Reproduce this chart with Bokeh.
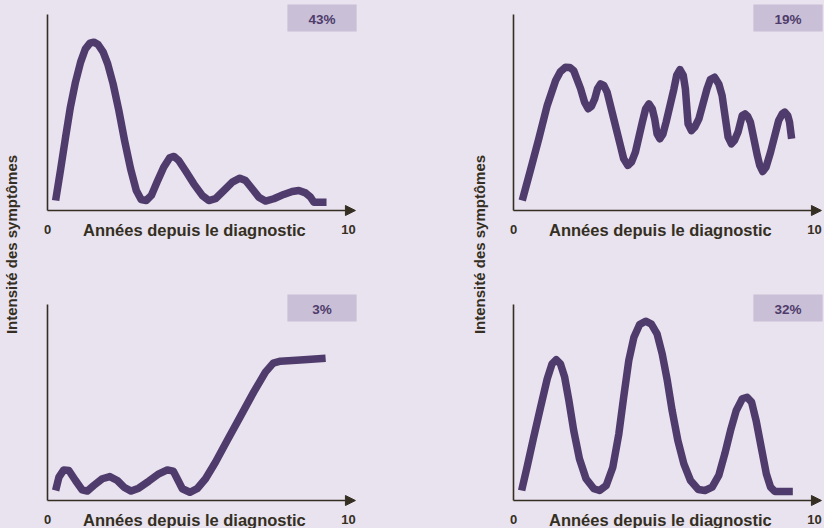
import math
from bokeh.plotting import figure
from bokeh.layouts import row, column
from bokeh.models import Arrow, NormalHead
from bokeh.core.properties import value
from bokeh.embed import file_html
from bokeh.resources import INLINE

# ---------------- data ----------------
x_label = "Années depuis le diagnostic"
y_label = "Intensité des symptômes"
tick_values = [0, 10]
tick_labels = ["0", "10"]
shares = ["43%", "19%", "3%", "32%"]

# panel 1 (top-left)
x1 = [0.27, 0.43, 0.60, 0.76, 0.93, 1.10, 1.26, 1.41, 1.54, 1.68, 1.85, 2.00, 2.18, 2.37, 2.56, 2.76,
      2.95, 3.11, 3.28, 3.45, 3.64, 3.86, 4.06, 4.20, 4.36, 4.58, 4.86, 5.14, 5.36, 5.58, 5.86, 6.14,
      6.39, 6.58, 6.80, 7.02, 7.24, 7.52, 7.85, 8.13, 8.35, 8.57, 8.74, 8.85, 8.96, 9.27]
y1 = [0.51, 2.04, 3.74, 5.27, 6.55, 7.57, 8.25, 8.54, 8.59, 8.47, 8.08, 7.48, 6.46, 5.10, 3.57, 2.13,
      1.02, 0.56, 0.51, 0.77, 1.45, 2.21, 2.69, 2.76, 2.55, 2.04, 1.36, 0.77, 0.51, 0.60, 1.02, 1.45,
      1.65, 1.53, 1.11, 0.68, 0.48, 0.60, 0.82, 0.97, 1.02, 0.90, 0.68, 0.42, 0.42, 0.42]

# panel 2 (top-right)
x2 = [0.29, 0.56, 0.84, 1.12, 1.40, 1.56, 1.73, 1.87, 2.00, 2.23, 2.36, 2.48, 2.59, 2.70, 2.79, 2.89,
      3.00, 3.11, 3.33, 3.55, 3.66, 3.80, 3.92, 4.05, 4.28, 4.39, 4.50, 4.61, 4.69, 4.77, 4.86, 4.96,
      5.07, 5.33, 5.42, 5.53, 5.64, 5.71, 5.80, 5.91, 6.02, 6.16, 6.43, 6.54, 6.68, 6.82, 6.93, 7.13,
      7.24, 7.34, 7.46, 7.60, 7.69, 7.78, 7.87, 8.10, 8.18, 8.28, 8.39, 8.54, 8.81, 8.93, 9.01, 9.11,
      9.17, 9.24]
y2 = [0.51, 2.04, 3.66, 5.36, 6.63, 7.09, 7.31, 7.30, 7.14, 6.21, 5.53, 5.19, 5.32, 5.70, 6.21, 6.46,
      6.38, 6.04, 4.68, 3.32, 2.64, 2.30, 2.47, 2.98, 4.51, 5.19, 5.44, 5.19, 4.68, 3.91, 3.66, 3.88,
      4.51, 6.21, 6.89, 7.19, 6.89, 6.21, 4.42, 4.08, 4.25, 4.68, 6.21, 6.68, 6.80, 6.46, 5.87, 3.74,
      3.40, 3.57, 4.00, 4.85, 4.93, 4.81, 4.51, 2.81, 2.30, 1.99, 2.21, 2.98, 4.59, 4.93, 5.02, 4.85,
      4.51, 3.66]

# panel 3 (bottom-left)
x3 = [0.27, 0.38, 0.54, 0.71, 0.93, 1.15, 1.32, 1.54, 1.82, 2.07, 2.32, 2.54, 2.78, 3.03, 3.37, 3.70,
      3.98, 4.18, 4.31, 4.48, 4.73, 4.97, 5.25, 5.58, 5.97, 6.41, 6.85, 7.24, 7.50, 7.74, 8.52, 9.24]
y3 = [0.51, 1.19, 1.56, 1.53, 1.02, 0.54, 0.48, 0.77, 1.11, 1.22, 1.02, 0.68, 0.48, 0.63, 0.99, 1.36,
      1.56, 1.50, 1.11, 0.60, 0.42, 0.60, 1.11, 1.95, 3.06, 4.29, 5.53, 6.55, 7.01, 7.11, 7.18, 7.26]

# panel 4 (bottom-right)
x4 = [0.27, 0.45, 0.67, 0.90, 1.12, 1.28, 1.42, 1.56, 1.70, 1.84, 2.00, 2.19, 2.41, 2.67, 2.86, 3.08,
      3.30, 3.50, 3.66, 3.83, 4.00, 4.19, 4.39, 4.58, 4.77, 4.94, 5.11, 5.27, 5.46, 5.66, 5.88, 6.14,
      6.36, 6.60, 6.82, 7.02, 7.21, 7.40, 7.60, 7.76, 7.91, 8.06, 8.23, 8.40, 8.54, 8.68, 9.28]
y4 = [0.51, 1.70, 3.23, 4.76, 6.21, 6.97, 7.18, 6.97, 6.29, 5.10, 3.57, 2.13, 1.11, 0.60, 0.51, 0.77,
      1.70, 3.40, 5.27, 7.14, 8.33, 8.98, 9.15, 9.00, 8.50, 7.48, 6.12, 4.59, 3.06, 1.87, 1.02, 0.56,
      0.51, 0.68, 1.28, 2.38, 3.57, 4.59, 5.19, 5.27, 5.02, 4.08, 2.72, 1.36, 0.68, 0.46, 0.46]

# ---------------- style ----------------
BG = "#E9E2EF"
PURPLE = "#4F3C6C"
DARK = "#342F22"
BADGE = "#C9BFD6"
FONT = value("Liberation Sans")

PX_X = 30.1    # pixels per year
PX_Y = 19.6    # pixels per intensity unit
Y_TOP = 10     # top of vertical axis
X_TIP = 10.23  # arrow tip
BADGE_L, BADGE_R, BADGE_B, BADGE_T = 7.97, 10.27, 9.13, 10.51
BADGE_TEXT_Y = 9.73
LABEL_Y = -19.3 / PX_Y
XLABEL_X = 4.88
BG_STYLE = {"background-color": BG}


def panel(xs, ys, share, width, height, axis_left, axis_px):
    xr = (-axis_left / PX_X, (width - axis_left) / PX_X)
    yr = (-(height - axis_px) / PX_Y, axis_px / PX_Y)
    p = figure(width=width, height=height, x_range=xr, y_range=yr,
               output_backend="svg", toolbar_location=None,
               x_axis_location=None, y_axis_location=None, min_border=0,
               background_fill_color=BG, border_fill_color=BG, outline_line_color=None,
               styles=BG_STYLE)
    p.grid.visible = False
    # badge
    p.quad(left=[BADGE_L], right=[BADGE_R], bottom=[BADGE_B], top=[BADGE_T],
           fill_color=BADGE, line_color=None)
    p.text(x=[(BADGE_L + BADGE_R) / 2], y=[BADGE_TEXT_Y], text=[share],
           text_font=FONT, text_font_style="bold", text_font_size="13.5px",
           text_color=PURPLE, text_align="center", text_baseline="alphabetic")
    # axes
    p.segment(x0=[0], y0=[0], x1=[0], y1=[Y_TOP], line_color=DARK, line_width=1.6)
    p.add_layout(Arrow(end=NormalHead(size=10, fill_color=DARK, line_color=DARK, line_width=1),
                       x_start=0, y_start=0, x_end=X_TIP, y_end=0,
                       line_color=DARK, line_width=1.6))
    p.text(x=tick_values, y=[LABEL_Y] * 2, text=tick_labels,
           text_font=FONT, text_font_style="bold", text_font_size="13px",
           text_color=DARK, text_align="center", text_baseline="alphabetic")
    p.text(x=[XLABEL_X], y=[LABEL_Y], text=[x_label],
           text_font=FONT, text_font_style="bold", text_font_size="16.5px",
           text_color=DARK, text_align="center", text_baseline="alphabetic")
    # curve
    p.line(xs, ys, line_color=PURPLE, line_width=7.5, line_join="round", line_cap="butt")
    return p


def label_fig(width, cx, cy, height):
    p = figure(width=width, height=height, x_range=(0, width), y_range=(0, height),
               output_backend="svg", toolbar_location=None,
               x_axis_location=None, y_axis_location=None, min_border=0,
               background_fill_color=BG, border_fill_color=BG, outline_line_color=None,
               styles=BG_STYLE)
    p.grid.visible = False
    p.text(x=[cx], y=[cy], text=[y_label], angle=math.pi / 2,
           text_font=FONT, text_font_style="bold", text_font_size="15px",
           text_color=DARK, text_align="center", text_baseline="middle")
    return p


H = 264
p1 = panel(x1, y1, shares[0], 330, H, 17, 210)
p3 = panel(x3, y3, shares[2], 330, H, 17, 236)
p2 = panel(x2, y2, shares[1], 324, H, 13, 210)
p4 = panel(x4, y4, shares[3], 324, H, 13, 236)

la = label_fig(30, 11, 2 * H - 244, 2 * H)
lb = label_fig(140, 119, 2 * H - 244, 2 * H)

layout = row(la, column(p1, p3, styles=BG_STYLE), lb, column(p2, p4, styles=BG_STYLE),
             styles=BG_STYLE)

open("out.html", "w").write(file_html(layout, INLINE))
